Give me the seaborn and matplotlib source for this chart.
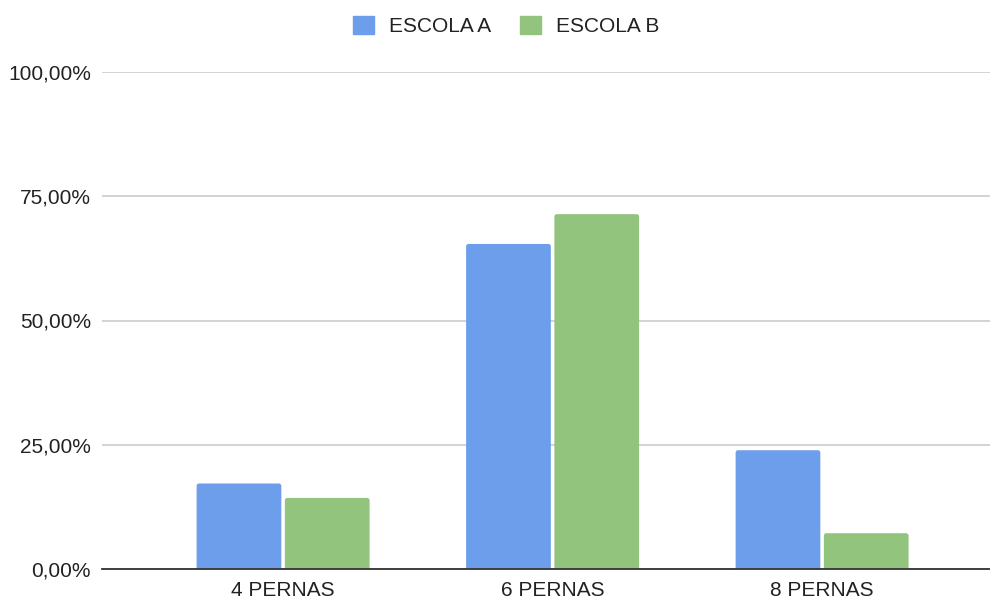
import matplotlib
matplotlib.use("Agg")
import matplotlib.pyplot as plt
import seaborn as sns
import pandas as pd
from matplotlib.patches import FancyBboxPatch
from matplotlib.ticker import FuncFormatter

categorias = ["4 PERNAS", "6 PERNAS", "8 PERNAS"]
escola_a = [17.2, 65.4, 23.9]
escola_b = [14.3, 71.4, 7.2]
series = ["ESCOLA A", "ESCOLA B"]
y_ticks = [0, 25, 50, 75, 100]

cores = {"ESCOLA A": "#6d9eeb", "ESCOLA B": "#93c47d"}

df = pd.DataFrame({
    "categoria": categorias * 2,
    "escola": [series[0]] * 3 + [series[1]] * 3,
    "valor": escola_a + escola_b,
})

sns.set_theme(style="white")
plt.rcParams["font.family"] = ["Liberation Sans", "DejaVu Sans"]

W, H = 990, 601
fig = plt.figure(figsize=(W / 100, H / 100), dpi=100)
ax_px = (102, 569, 888, 497)  # left, bottom (from top), width, height in pixels
ax = fig.add_axes([ax_px[0] / W, 1 - ax_px[1] / H, ax_px[2] / W, ax_px[3] / H])

sns.barplot(data=df, x="categoria", y="valor", hue="escola", order=categorias,
            hue_order=series, palette=cores, width=0.655, gap=0.04,
            saturation=1, ax=ax, legend=False)

xlim = (-0.672, 2.623)
ylim = (0, 100)
ax.set_xlim(*xlim)
ax.set_ylim(*ylim)

# swap rectangles for slightly rounded ones
x_per_px = (xlim[1] - xlim[0]) / ax_px[2]
y_per_px = (ylim[1] - ylim[0]) / ax_px[3]
r_px = 2.5
for p in list(ax.patches):
    x, y = p.get_x(), p.get_y()
    w, h = p.get_width(), p.get_height()
    color = p.get_facecolor()
    p.remove()
    ext = r_px * y_per_px
    fb = FancyBboxPatch((x, y - ext), w, h + ext,
                        boxstyle=f"round,pad=0,rounding_size={r_px * x_per_px}",
                        mutation_aspect=y_per_px / x_per_px,
                        facecolor=color, edgecolor="none", zorder=2)
    ax.add_patch(fb)

ax.set_yticks(y_ticks)
ax.yaxis.set_major_formatter(FuncFormatter(lambda v, _: f"{v:.2f}%".replace(".", ",")))
ax.grid(axis="y", color="#cccccc", linewidth=1.2, zorder=0)
ax.set_axisbelow(True)
for s in ["top", "right", "left"]:
    ax.spines[s].set_visible(False)
ax.spines["bottom"].set_color("#333333")
ax.spines["bottom"].set_linewidth(1.3)
ax.spines["bottom"].set_zorder(3)
ax.tick_params(axis="both", length=0, labelsize=15, colors="#222222")
ax.tick_params(axis="y", pad=8)
ax.tick_params(axis="x", pad=9)
ax.set_xlabel("")
ax.set_ylabel("")

handles = [plt.Rectangle((0, 0), 1, 1, color=cores[s]) for s in series]
fig.legend(handles, series, loc="center", bbox_to_anchor=(506 / W, 1 - 26 / H),
           ncol=2, frameon=False, fontsize=15, handlelength=1.0, handleheight=1.0,
           handletextpad=0.72, columnspacing=1.4, labelcolor="#222222")

fig.savefig("out.png", dpi=100)
